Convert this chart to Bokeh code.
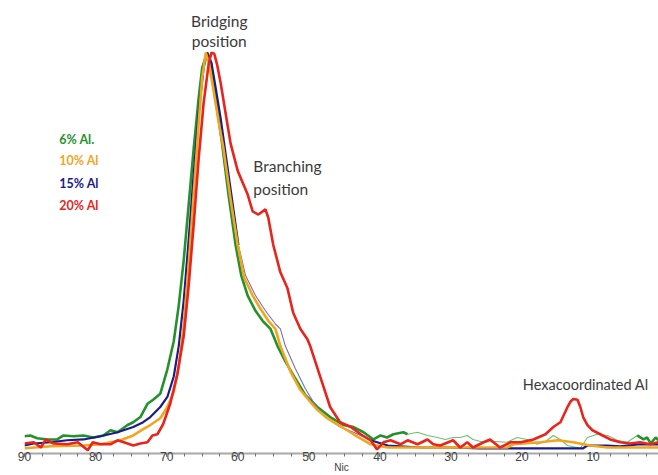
from bokeh.plotting import figure
from bokeh.models import Range1d, FixedTicker, Label
from bokeh.embed import file_html
from bokeh.resources import INLINE

# ---------------- data (chemical shift, relative intensity) ----------------
x_6 = [90.0, 89.2, 88.2, 86.8, 85.4, 84.5, 83.1, 81.7, 80.3, 78.9, 77.9, 76.9, 75.5, 74.7,
       73.7, 72.7, 71.9, 70.9, 69.9, 69.0, 68.3, 67.6, 66.9, 66.2, 65.5, 65.0, 64.5, 64.3,
       63.8, 63.3, 62.7, 62.2, 61.3, 60.3, 59.5, 58.6, 57.5, 56.5, 55.4, 54.4, 53.3, 51.9,
       50.5, 48.8, 47.0, 45.1, 43.7, 42.3, 40.9, 39.9, 39.0, 38.1, 36.7, 36.1, 34.7, 33.3,
       31.9, 30.8, 29.7, 28.7, 27.7, 26.9, 25.4, 24.0, 22.1, 20.7, 19.3, 17.9, 16.7, 15.6,
       14.6, 13.6, 11.8, 10.8, 9.4, 8.0, 6.6, 5.2, 3.8, 2.9, 2.4, 1.9, 1.2, 0.8]
y_6 = [4.3, 4.5, 3.8, 3.5, 3.5, 4.5, 4.3, 4.5, 4.0, 4.5, 5.8, 5.3, 7.1, 7.8,
       9.1, 12.4, 13.4, 14.9, 21.0, 28.0, 36.9, 48.2, 62.1, 76.0, 88.6, 96.2, 99.0, 100.0,
       97.5, 91.2, 83.6, 77.3, 64.6, 52.0, 44.4, 39.4, 35.6, 33.1, 31.1, 26.8, 23.0, 18.7,
       14.6, 11.6, 9.1, 7.1, 6.6, 5.3, 3.5, 4.5, 4.0, 4.8, 5.3, 4.8, 5.3, 4.5,
       4.0, 3.5, 4.0, 4.0, 4.5, 3.5, 2.8, 3.0, 2.8, 4.0, 3.5, 2.3, 3.0, 4.5,
       3.5, 2.0, 1.3, 4.0, 4.8, 4.5, 3.3, 2.8, 4.5, 3.5, 4.0, 2.5, 4.0, 3.3]

x_10 = [90.0, 86.3, 81.7, 79.3, 76.5, 74.7, 73.3, 72.3, 70.9, 69.9, 69.0, 68.3, 67.6, 66.9,
        66.2, 65.5, 65.0, 64.5, 64.0, 63.4, 62.7, 62.0, 61.0, 60.0, 59.1, 57.9, 56.8, 55.7,
        54.7, 54.0, 52.6, 51.2, 49.8, 48.8, 47.4, 46.0, 43.7, 41.3, 38.9, 34.3, 28.7, 22.1,
        21.2, 17.4, 15.0, 12.8, 10.4, 8.0, 3.4, 0.8]
y_10 = [1.3, 1.8, 2.0, 2.3, 3.3, 4.5, 6.1, 7.1, 8.8, 11.6, 15.4, 21.7, 31.8, 47.0,
        64.6, 82.3, 93.7, 100.0, 97.0, 90.4, 82.8, 76.0, 63.4, 52.0, 43.9, 39.4, 36.1, 33.1,
        31.1, 26.8, 20.5, 15.9, 12.9, 10.9, 8.8, 7.3, 4.8, 2.3, 1.5, 1.5, 1.5, 1.5,
        2.3, 2.8, 3.3, 2.8, 2.0, 1.5, 1.5, 1.5]

x_15 = [90.0, 88.7, 86.3, 84.0, 81.7, 79.3, 76.9, 74.7, 73.3, 72.3, 70.9, 69.9, 69.0, 68.3,
        67.6, 66.9, 66.2, 65.5, 64.8, 64.3, 63.7, 63.1, 62.4, 61.7, 60.7, 59.9, 58.9, 57.5,
        56.1, 54.7, 54.0, 53.3, 51.9, 50.5, 49.1, 47.7, 45.6, 43.7, 41.3, 38.9, 34.3, 30.1,
        25.9, 20.7, 16.0, 11.4, 10.8, 8.0, 6.2, 3.4, 0.8]
y_15 = [2.0, 2.5, 2.8, 3.3, 3.5, 4.3, 5.3, 6.6, 7.8, 9.1, 11.6, 14.1, 19.2, 26.8,
        38.1, 53.3, 69.7, 84.8, 96.2, 100.0, 97.5, 91.2, 83.6, 74.7, 62.1, 52.0, 44.4, 39.4,
        35.6, 32.3, 31.1, 26.8, 21.2, 16.2, 12.1, 9.1, 6.6, 5.3, 3.3, 2.0, 1.5, 1.5,
        1.3, 1.3, 1.3, 1.3, 2.0, 2.0, 1.8, 2.3, 2.3]

x_20 = [90.0, 88.7, 87.7, 87.0, 85.9, 84.0, 82.5, 81.8, 81.1, 80.4, 79.3, 77.9, 76.9, 75.5,
        74.7, 73.7, 72.7, 72.0, 71.3, 70.5, 69.5, 68.5, 67.6, 66.9, 66.2, 65.5, 64.8, 64.1,
        63.7, 63.3, 62.9, 62.4, 61.7, 61.0, 60.0, 58.6, 57.9, 57.1, 56.1, 55.7, 55.0, 54.0,
        53.0, 52.2, 51.2, 50.2, 49.8, 48.4, 47.0, 45.6, 44.1, 42.7, 41.3, 40.4, 39.5, 38.5,
        37.1, 36.1, 34.7, 33.3, 32.5, 31.5, 29.7, 28.7, 27.7, 26.9, 25.4, 24.5, 23.1, 21.6,
        20.2, 18.4, 16.7, 15.6, 14.6, 13.6, 13.2, 12.8, 12.2, 11.8, 11.4, 10.8, 10.1, 9.0,
        7.6, 6.2, 4.8, 3.4, 2.0, 0.8]
y_20 = [2.5, 2.8, 1.5, 3.5, 2.5, 2.3, 2.8, 1.8, 0.8, 2.8, 2.3, 2.3, 3.3, 2.5,
        2.0, 2.5, 2.8, 4.5, 4.8, 7.3, 12.4, 19.7, 29.3, 41.9, 57.1, 73.5, 87.4, 97.0,
        100.0, 99.7, 97.0, 92.4, 84.8, 77.3, 70.5, 64.6, 60.4, 59.6, 60.9, 58.8, 52.0, 45.2,
        41.2, 35.1, 31.1, 28.5, 26.8, 19.2, 11.6, 7.8, 6.6, 4.8, 3.3, 1.0, 2.8, 3.3,
        2.3, 3.3, 2.3, 3.5, 2.3, 2.0, 3.3, 1.5, 2.8, 1.5, 2.8, 3.5, 1.5, 2.8,
        2.8, 3.5, 4.8, 6.6, 7.8, 11.6, 12.9, 13.6, 13.4, 11.6, 9.1, 7.1, 5.8, 4.8,
        3.5, 2.8, 2.5, 2.8, 2.3, 2.8]

series_labels = ["6% Al.", "10% Al", "15% Al", "20% Al"]
tick_values = [90, 80, 70, 60, 50, 40, 30, 20, 10]
x_title = "Nic"

# ---------------- styles ----------------
GREEN, GREEN_THIN = "#23922a", "#6fbf6f"
ORANGE = "#f2a51f"
NAVY, NAVY_THIN = "#1b1b8a", "#7a6fb0"
RED = "#e8241c"
TEXT = "#3a3a3a"


def split(xs, ys, lo, hi):
    """Split a series into the part left of hi, the part between, and right of lo."""
    a = [(x, y) for x, y in zip(xs, ys) if x >= hi]
    b = [(x, y) for x, y in zip(xs, ys) if lo <= x <= hi]
    c = [(x, y) for x, y in zip(xs, ys) if x <= lo]
    return [list(zip(*s)) for s in (a, b, c)]


p = figure(width=658, height=475, output_backend="svg", toolbar_location=None,
           x_range=Range1d(90, 0.8), y_range=Range1d(0, 113),
           y_axis_location=None, min_border_left=24, min_border_right=0,
           min_border_top=0, min_border_bottom=0)
p.grid.visible = False
p.outline_line_color = None

# green (6%)
g1, g2, g3 = split(x_6, y_6, 3.8, 36.1)
p.line(list(g1[0]), list(g1[1]), line_color=GREEN, line_width=2.6)
p.line(list(g2[0]), list(g2[1]), line_color=GREEN_THIN, line_width=1.1)
p.line(list(g3[0]), list(g3[1]), line_color=GREEN, line_width=2.6)

# navy (15%)
b1, b2, b3 = split(x_15, y_15, 41.3, 59.9)
p.line(list(b1[0]), list(b1[1]), line_color=NAVY, line_width=2.2)
p.line(list(b2[0]), list(b2[1]), line_color=NAVY_THIN, line_width=1.1)
p.line(list(b3[0]), list(b3[1]), line_color=NAVY, line_width=2.2)

# orange (10%)
p.line(x_10, y_10, line_color=ORANGE, line_width=2.6)

# red (20%)
p.line(x_20, y_20, line_color=RED, line_width=2.6)

# axis
minor = [90 - 2.5 * i for i in range(37)]
p.xaxis.ticker = FixedTicker(ticks=tick_values, minor_ticks=minor)
p.xaxis.axis_line_color = "#a8a8a8"
p.xaxis.axis_line_width = 2
p.xaxis.major_tick_in = 0
p.xaxis.major_tick_out = 3
p.xaxis.minor_tick_in = 0
p.xaxis.minor_tick_out = 3
p.xaxis.major_tick_line_color = "#707070"
p.xaxis.minor_tick_line_color = "#707070"
p.xaxis.major_label_standoff = -5
p.xaxis.major_label_text_font = "Liberation Sans"
p.xaxis.major_label_text_font_size = "12px"
p.xaxis.major_label_text_color = "#404040"
p.xaxis.axis_label = x_title
p.xaxis.axis_label_standoff = -2
p.xaxis.axis_label_text_font = "Liberation Sans"
p.xaxis.axis_label_text_font_size = "10px"
p.xaxis.axis_label_text_font_style = "normal"
p.xaxis.axis_label_text_color = "#404040"

# legend-like labels
legend_colors = [GREEN, ORANGE, NAVY, RED]
legend_y = [78.3, 73.0, 67.4, 61.8]
for lab, col, ly in zip(series_labels, legend_colors, legend_y):
    p.add_layout(Label(x=85.1, y=ly, text=lab, text_color=col, text_font="Lato",
                       text_font_style="bold", text_font_size="12.5px",
                       text_align="left", text_baseline="middle"))

# annotations
ann = [("Bridging", 62.6, 107.9, "center", "15.5px"), ("position", 62.6, 102.9, "center", "15.5px"),
       ("Branching", 57.8, 71.7, "left", "15.5px"), ("position", 57.8, 65.9, "left", "15.5px"),
       ("Hexacoordinated Al", 2.2, 17.2, "right", "14.5px")]
for t, ax, ay, al, fs in ann:
    p.add_layout(Label(x=ax, y=ay, text=t, text_color=TEXT, text_font="Lato",
                       text_font_size=fs, text_align=al, text_baseline="middle"))

open("out.html", "w").write(file_html(p, INLINE))
